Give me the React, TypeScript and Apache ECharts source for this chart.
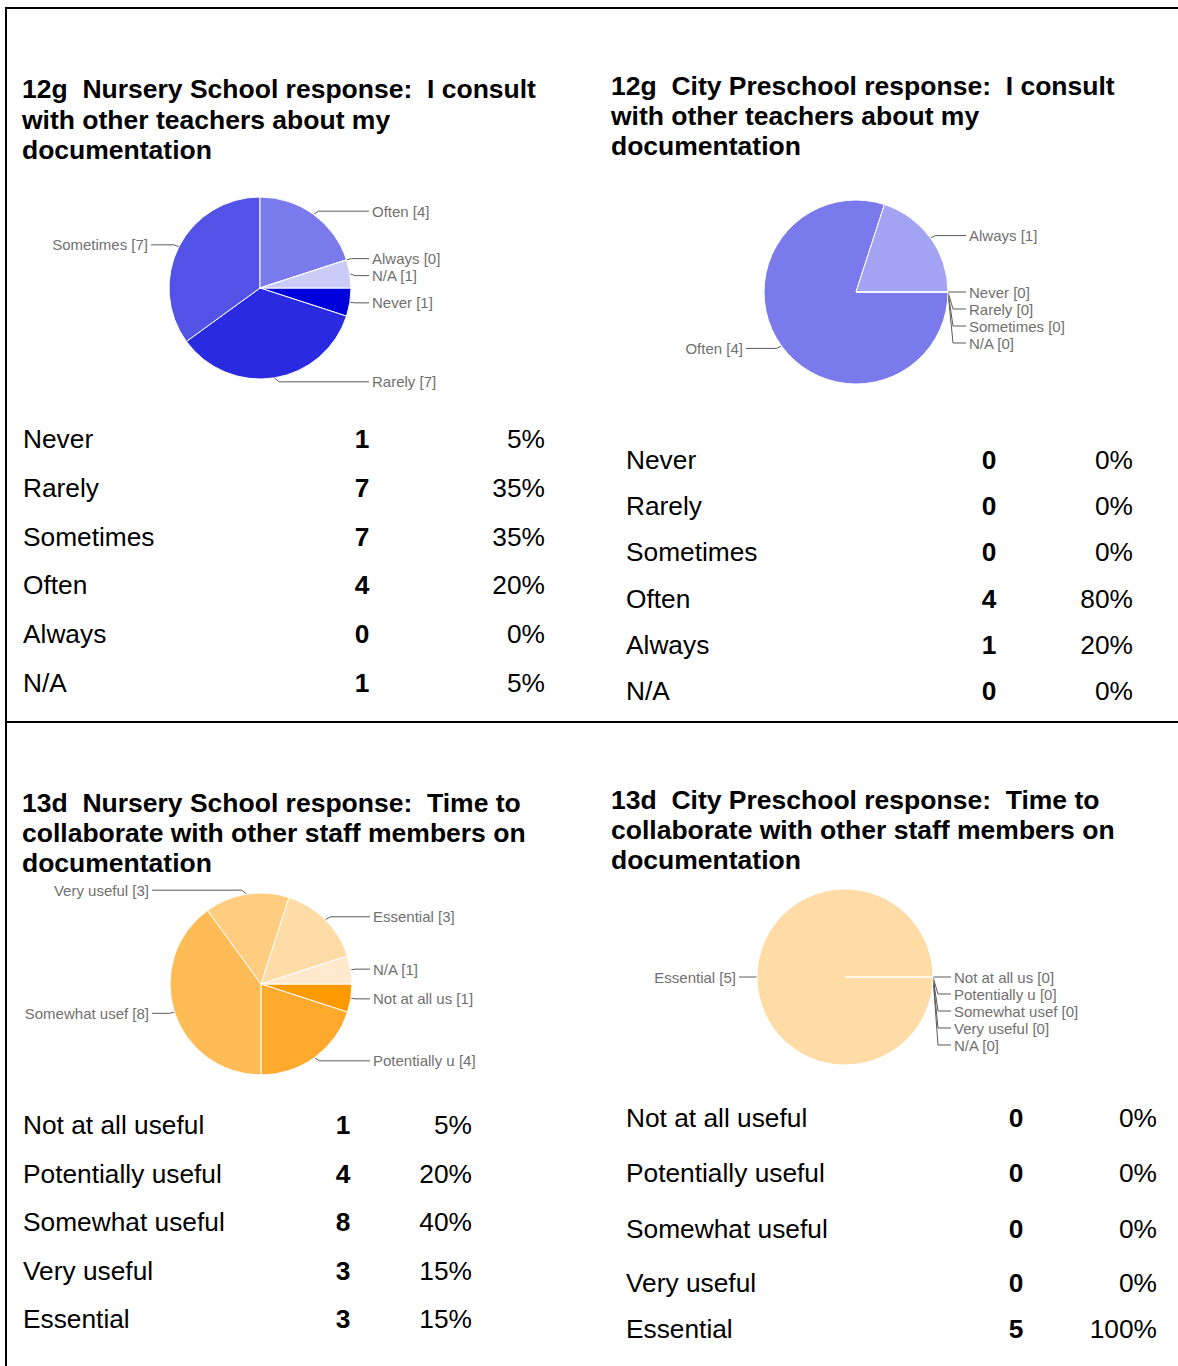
import React, { useEffect, useRef } from 'react';
import * as echarts from 'echarts';

const FONT = "'Liberation Sans', Arial, Helvetica, sans-serif";

// ---- Data: 12g "I consult with other teachers about my documentation"
const freqCategories = ['Never', 'Rarely', 'Sometimes', 'Often', 'Always', 'N/A'];
const freqPieLabels = ['Never', 'Rarely', 'Sometimes', 'Often', 'Always', 'N/A'];
const nurseryConsultCounts = [1, 7, 7, 4, 0, 1];
const nurseryConsultPercents = [5, 35, 35, 20, 0, 5];
const cityConsultCounts = [0, 0, 0, 4, 1, 0];
const cityConsultPercents = [0, 0, 0, 80, 20, 0];

// ---- Data: 13d "Time to collaborate with other staff members on documentation"
const usefulCategories = ['Not at all useful', 'Potentially useful', 'Somewhat useful', 'Very useful', 'Essential'];
const usefulPieLabels = ['Not at all us', 'Potentially u', 'Somewhat usef', 'Very useful', 'Essential', 'N/A'];
const nurseryTimeCounts = [1, 4, 8, 3, 3];
const nurseryTimeNA = 1;
const nurseryTimePercents = [5, 20, 40, 15, 15];
const cityTimeCounts = [0, 0, 0, 0, 5];
const cityTimeNA = 0;
const cityTimePercents = [0, 0, 0, 0, 100];

// ---- Titles
const titleNurseryConsult = ['12g  Nursery School response:  I consult', 'with other teachers about my', 'documentation'];
const titleCityConsult = ['12g  City Preschool response:  I consult', 'with other teachers about my', 'documentation'];
const titleNurseryTime = ['13d  Nursery School response:  Time to', 'collaborate with other staff members on', 'documentation'];
const titleCityTime = ['13d  City Preschool response:  Time to', 'collaborate with other staff members on', 'documentation'];

// ---- Styles
const freqColors = ['#0000dc', '#2a2ae0', '#5252e6', '#7a7aec', '#a3a3f3', '#cbcbf8'];
const usefulColors = ['#ff9900', '#ffaa2c', '#ffbb55', '#ffcc80', '#ffdca5', '#ffead0'];

function pieSeries(names: string[], values: number[], colors: string[], cx: number, cy: number, r: number) {
  return {
    type: 'pie',
    center: [cx, cy],
    radius: r,
    startAngle: 0,
    clockwise: true,
    avoidLabelOverlap: true,
    silent: true,
    data: names.map((n, i) => ({ name: n, value: values[i], itemStyle: { color: colors[i] } })),
    itemStyle: { borderColor: '#ffffff', borderWidth: 1 },
    label: {
      show: true,
      position: 'outside',
      formatter: '{b} [{c}]',
      fontFamily: FONT,
      fontSize: 15,
      color: '#707070',
      lineHeight: 14.7,
      distanceToLabelLine: 3,
    },
    labelLine: {
      show: true,
      length: 4,
      length2: 8,
      smooth: false,
      lineStyle: { color: '#5a5a5a', width: 1 },
    },
    labelLayout: (params: any) => {
      const right = params.labelRect.x + params.labelRect.width / 2 >= cx;
      const x = right ? cx + r + 21 : cx - r - 21;
      const pts = params.labelLinePoints;
      if (pts && pts.length === 3) {
        const dir = right ? 1 : -1;
        const ly = pts[2][1];
        pts[1] = [pts[0][0] + dir * 5, ly];
        pts[2] = [x - dir * 3, ly];
      }
      return { x, labelLinePoints: pts };
    },
    emphasis: { disabled: true },
  };
}

function titleTexts(lines: string[], x: number, ys: number[]) {
  return lines.map((t, i) => ({
    type: 'text',
    x,
    y: ys[i],
    silent: true,
    style: {
      text: t,
      fontFamily: FONT,
      fontSize: 26.5,
      fontWeight: 'bold',
      fill: '#000',
      align: 'left',
      verticalAlign: 'middle',
    },
  }));
}

function tableTexts(labels: string[], counts: number[], pcts: number[], x: number, countX: number, pctX: number, ys: number[]) {
  const els: any[] = [];
  labels.forEach((lab, i) => {
    els.push({
      type: 'text', x, y: ys[i], silent: true,
      style: { text: lab, fontFamily: FONT, fontSize: 26.3, fill: '#000', align: 'left', verticalAlign: 'middle' },
    });
    els.push({
      type: 'text', x: countX, y: ys[i], silent: true,
      style: { text: String(counts[i]), fontFamily: FONT, fontSize: 26.3, fontWeight: 'bold', fill: '#000', align: 'center', verticalAlign: 'middle' },
    });
    els.push({
      type: 'text', x: pctX, y: ys[i], silent: true,
      style: { text: pcts[i] + '%', fontFamily: FONT, fontSize: 26.3, fill: '#000', align: 'right', verticalAlign: 'middle' },
    });
  });
  return els;
}

const rows = (start: number, step: number, n: number) => Array.from({ length: n }, (_, i) => start + i * step);

export default function App() {
  const ref = useRef<HTMLDivElement>(null);
  useEffect(() => {
    if (!ref.current) return;
    const chart = echarts.init(ref.current, null, { renderer: 'svg' });
    const option: any = {
      animation: false,
      backgroundColor: '#ffffff',
      series: [
        pieSeries(freqPieLabels, nurseryConsultCounts, freqColors, 260, 288, 91),
        pieSeries(freqPieLabels, cityConsultCounts, freqColors, 856, 292, 92),
        pieSeries(usefulPieLabels, [...nurseryTimeCounts, nurseryTimeNA], usefulColors, 261, 984, 91),
        pieSeries(usefulPieLabels, [...cityTimeCounts, cityTimeNA], usefulColors, 845, 977, 88),
      ],
      graphic: [
        { type: 'rect', silent: true, shape: { x: 5, y: 7, width: 1173, height: 2 }, style: { fill: '#000' } },
        { type: 'rect', silent: true, shape: { x: 5, y: 7, width: 2, height: 1359 }, style: { fill: '#000' } },
        { type: 'rect', silent: true, shape: { x: 5, y: 721, width: 1173, height: 2 }, style: { fill: '#000' } },
        ...titleTexts(titleNurseryConsult, 22, [89, 120, 150]),
        ...titleTexts(titleCityConsult, 611, [86, 116, 146]),
        ...titleTexts(titleNurseryTime, 22, [803, 833, 863]),
        ...titleTexts(titleCityTime, 611, [800, 830, 860]),
        ...tableTexts(freqCategories, nurseryConsultCounts, nurseryConsultPercents, 23, 362, 545, rows(439, 48.8, 6)),
        ...tableTexts(freqCategories, cityConsultCounts, cityConsultPercents, 626, 989, 1133, rows(460, 46.2, 6)),
        ...tableTexts(usefulCategories, nurseryTimeCounts, nurseryTimePercents, 23, 343, 472, rows(1125, 48.5, 5)),
        ...tableTexts(usefulCategories, cityTimeCounts, cityTimePercents, 626, 1016, 1157, [1118, 1173, 1229, 1283, 1329]),
      ],
    };
    chart.setOption(option);
    return () => chart.dispose();
  }, []);
  return (
    <div
      ref={ref}
      style={{ position: 'absolute', left: 0, top: 0, width: 1178, height: 1366, background: '#fff' }}
    />
  );
}
